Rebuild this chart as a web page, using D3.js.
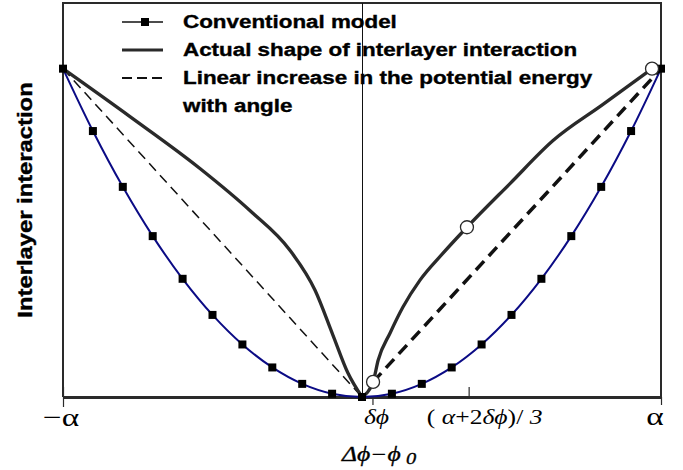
<!DOCTYPE html>
<html>
<head>
<meta charset="utf-8">
<script src="https://cdn.jsdelivr.net/npm/d3@7"></script>
<style>
body { margin: 0; background: #fff; }
</style>
</head>
<body>
<div class="chart"></div>
<script>
// angle axis in units of alpha (alpha = 1), energy axis normalised to the value at +-alpha
var DPHI = 0.035;

var convX = [-1, -0.9, -0.8, -0.7, -0.6, -0.5, -0.4, -0.3, -0.2, -0.1, 0,
             0.1, 0.2, 0.3, 0.4, 0.5, 0.6, 0.7, 0.8, 0.9, 1];
var convY = [1, 0.81, 0.64, 0.49, 0.36, 0.25, 0.16, 0.09, 0.04, 0.01, 0,
             0.01, 0.04, 0.09, 0.16, 0.25, 0.36, 0.49, 0.64, 0.81, 1];

var actualLeftX = [-1, -0.776, -0.542, -0.375, -0.241, -0.157, -0.097, -0.047, 0];
var actualLeftY = [1, 0.854, 0.696, 0.568, 0.447, 0.325, 0.188, 0.073, 0];
var actualRightX = [0, 0.037, 0.054, 0.094, 0.137, 0.194, 0.271, 0.351, 0.495, 0.639, 0.806, 0.970];
var actualRightY = [0, 0.046, 0.112, 0.195, 0.274, 0.356, 0.438, 0.517, 0.650, 0.781, 0.891, 1.0];

var linearLeftX = [-1, 0];
var linearLeftY = [1, 0];
var linearRightX = [0.037, 1];
var linearRightY = [0.046, 1];

var circleX = [0.037, 0.351, 0.970];
var circleY = [0.046, 0.517, 1.0];

var tickValues = [-1, DPHI, (1 + 2 * DPHI) / 3, 1];

var legendLabels = ["Conventional model",
                    "Actual shape of interlayer interaction",
                    "Linear increase in the potential energy",
                    "with angle"];

function zipXY(xs, ys) {
    return xs.map(function(v, i) { return [v, ys[i]]; });
}

var W = 683, H = 470;
var STRETCH = 1.28;   // the original figure is widened horizontally
var INK = "#2a2a2a";

var x = d3.scaleLinear().domain([-1, 1]).range([63, 661]);
var y = d3.scaleLinear().domain([0, 1.2]).range([397, 3]);

var svg = d3.select(".chart").append("svg")
    .attr("width", W)
    .attr("height", H);

// frame
svg.append("path")
    .attr("d", "M" + x(-1) + "," + y(0) + "V" + y(1.2) + "H" + x(1) + "V" + y(0))
    .attr("fill", "none")
    .attr("stroke", INK)
    .attr("stroke-width", 2);

// centre line at zero
svg.append("line")
    .attr("x1", x(0) + 0.5).attr("x2", x(0) + 0.5)
    .attr("y1", y(1.2)).attr("y2", y(0))
    .attr("stroke", "#111")
    .attr("stroke-width", 1);

// x axis with ticks
var axis = svg.append("g")
    .attr("transform", "translate(0," + y(0) + ")")
    .call(d3.axisBottom(x).tickValues(tickValues).tickSize(8).tickFormat("").tickSizeOuter(0));
axis.select(".domain").attr("stroke", INK).attr("stroke-width", 3);
axis.selectAll(".tick line")
    .attr("stroke", INK)
    .attr("stroke-width", 1.2)
    .attr("y1", function(d, i) { return (i === 0 || i === 2) ? -10 : 0; })
    .attr("y2", function(d, i) { return i === 2 ? 0 : (i === 0 ? 10 : 8); });

var line = d3.line()
    .x(function(d) { return x(d[0]); })
    .y(function(d) { return y(d[1]); });

// conventional model
var convData = zipXY(convX, convY);
svg.append("path")
    .attr("fill", "none")
    .attr("stroke", "#0b0b85")
    .attr("stroke-width", 2)
    .attr("d", line.curve(d3.curveCatmullRom)(convData));

// linear increase, thin on the left, heavy on the right
svg.append("path")
    .attr("fill", "none")
    .attr("stroke", "#111")
    .attr("stroke-width", 1.5)
    .attr("stroke-dasharray", "10,6")
    .attr("d", line.curve(d3.curveLinear)(zipXY(linearLeftX, linearLeftY)));
svg.append("path")
    .attr("fill", "none")
    .attr("stroke", "#111")
    .attr("stroke-width", 3.5)
    .attr("stroke-dasharray", "12,7")
    .attr("d", line.curve(d3.curveLinear)(zipXY(linearRightX, linearRightY)));

// actual shape
[zipXY(actualLeftX, actualLeftY), zipXY(actualRightX, actualRightY)].forEach(function(dat) {
    svg.append("path")
        .attr("fill", "none")
        .attr("stroke", INK)
        .attr("stroke-width", 3.3)
        .attr("stroke-linejoin", "round")
        .attr("d", line.curve(d3.curveMonotoneX)(dat));
});

// square markers of the conventional model
svg.selectAll("rect.mk").data(convData).enter()
    .append("rect")
    .attr("class", "mk")
    .attr("x", function(d) { return x(d[0]) - 4; })
    .attr("y", function(d) { return y(d[1]) - 4; })
    .attr("width", 8)
    .attr("height", 8)
    .attr("fill", "#000");

// open circles
svg.selectAll("circle.oc").data(zipXY(circleX, circleY)).enter()
    .append("circle")
    .attr("class", "oc")
    .attr("cx", function(d) { return x(d[0]); })
    .attr("cy", function(d) { return y(d[1]); })
    .attr("r", 6.5)
    .attr("fill", "#fff")
    .attr("stroke", INK)
    .attr("stroke-width", 1.3);

// legend
var leg = svg.append("g");
var rowY = [22, 50, 78, 106];
leg.append("line").attr("x1", 122).attr("x2", 163).attr("y1", rowY[0]).attr("y2", rowY[0])
    .attr("stroke", "#111").attr("stroke-width", 1.5);
leg.append("rect").attr("x", 141).attr("y", rowY[0] - 4).attr("width", 8).attr("height", 8).attr("fill", "#000");
leg.append("line").attr("x1", 122).attr("x2", 163).attr("y1", rowY[1]).attr("y2", rowY[1])
    .attr("stroke", INK).attr("stroke-width", 3);
leg.append("line").attr("x1", 122).attr("x2", 163).attr("y1", rowY[2]).attr("y2", rowY[2])
    .attr("stroke", "#111").attr("stroke-width", 1.8).attr("stroke-dasharray", "10,5");
legendLabels.forEach(function(t, i) {
    leg.append("text")
        .attr("transform", "translate(183," + (rowY[i] + 6) + ") scale(" + STRETCH + ",1)")
        .attr("font-family", "'Liberation Sans', Arial, sans-serif")
        .attr("font-weight", "bold")
        .attr("font-size", 17.5)
        .attr("fill", "#000")
        .attr("stroke", "#000")
        .attr("stroke-width", 0.35)
        .text(t);
});

// y axis title
svg.append("text")
    .attr("transform", "translate(32,200) rotate(-90) scale(1.22,1)")
    .attr("text-anchor", "middle")
    .attr("font-family", "'Liberation Sans', Arial, sans-serif")
    .attr("font-weight", "bold")
    .attr("font-size", 19.5)
    .attr("fill", "#000")
    .attr("stroke", "#000")
    .attr("stroke-width", 0.4)
    .text("Interlayer interaction");

// tick labels
var serif = "'Liberation Serif', 'Times New Roman', serif";
function tickLabel(cx, cy, size) {
    return svg.append("text")
        .attr("transform", "translate(" + cx + "," + cy + ") scale(" + STRETCH + ",1)")
        .attr("text-anchor", "middle")
        .attr("font-family", serif)
        .attr("font-size", size)
        .attr("fill", "#000");
}
tickLabel(x(tickValues[0]) - 2, 426, 26).text("\u2212\u03b1");
tickLabel(x(tickValues[3]) - 6, 425, 26).text("\u03b1");
tickLabel(x(tickValues[1]) + 4, 424, 20).attr("font-style", "italic").text("\u03b4\u03d5");
var mid = tickLabel(x(tickValues[2]) + 16, 424, 20);
mid.append("tspan").text("( ");
mid.append("tspan").attr("font-style", "italic").text("\u03b1");
mid.append("tspan").text("+2");
mid.append("tspan").attr("font-style", "italic").text("\u03b4\u03d5");
mid.append("tspan").text(")/ ");
mid.append("tspan").attr("font-style", "italic").text("3");

// x axis title
var xt = svg.append("text")
    .attr("transform", "translate(342,461) scale(" + STRETCH + ",1)")
    .attr("font-family", serif)
    .attr("font-style", "italic")
    .attr("font-size", 20)
    .attr("fill", "#000")
    .attr("stroke", "#000")
    .attr("stroke-width", 0.3);
xt.append("tspan").text("\u0394\u03d5\u2212\u03d5");
xt.append("tspan").attr("font-size", 16).attr("dy", 3).text(" 0");
</script>
</body>
</html>
